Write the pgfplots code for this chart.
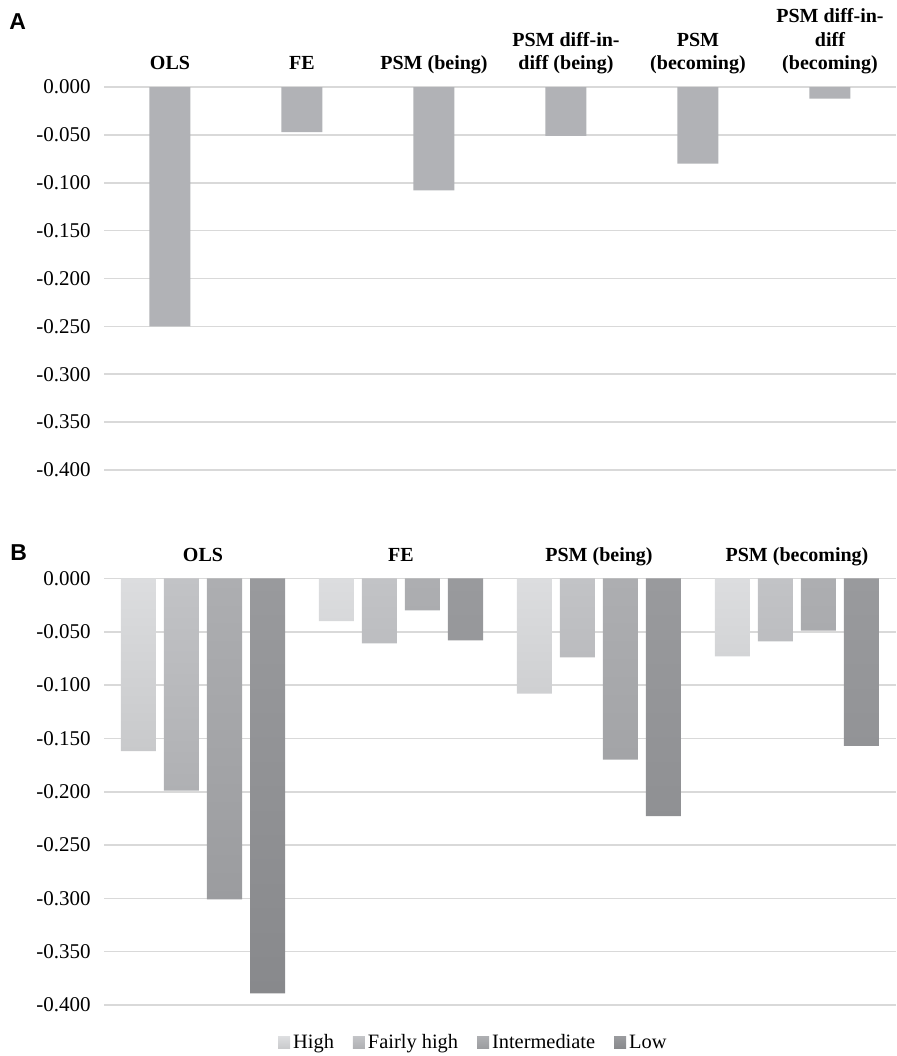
\documentclass[border=0pt]{standalone}
\usepackage{pgfplots}
\pgfplotsset{compat=1.18}
\usepackage{fontspec}
\setmainfont{Liberation Serif}
\newfontfamily\arial{Liberation Sans}

\definecolor{gridc}{HTML}{D9D9D9}
\definecolor{barA}{HTML}{B1B2B6}
\definecolor{hiT}{HTML}{DCDDDF}\definecolor{hiB}{HTML}{C8C9CB}
\definecolor{fhT}{HTML}{C2C3C6}\definecolor{fhB}{HTML}{AFB0B3}
\definecolor{imT}{HTML}{ADAEB1}\definecolor{imB}{HTML}{9B9C9F}
\definecolor{loT}{HTML}{999A9D}\definecolor{loB}{HTML}{88898C}

\pgfplotsset{
  panel/.style={
    scale only axis, width=396pt,
    axis line style={draw=none},
    major tick length=0pt,
    ymajorgrids, grid style={gridc, line width=0.8pt},
    ymin=-0.4, ymax=0,
    ytick={-0.4,-0.35,-0.3,-0.25,-0.2,-0.15,-0.1,-0.05,0},
    yticklabels={-0.400,-0.350,-0.300,-0.250,-0.200,-0.150,-0.100,-0.050,0.000},
    yticklabel style={font=\fontsize{10.5}{12}\selectfont, anchor=east, inner sep=0pt, xshift=-6.5pt},
    xticklabel pos=upper,
    xticklabel style={font=\fontsize{10}{11.75}\selectfont\bfseries, anchor=south, align=center,
      inner sep=0pt, text depth=0pt, yshift=8.5pt},
    clip=false,
  },
  sqlegend/.style={legend image code/.code={\fill[##1] (0pt,-3pt) rectangle (6pt,3pt);}},
}

\begin{document}
\begin{tikzpicture}
% panel A
\begin{axis}[panel, at={(52pt,-235pt)}, anchor=south west, height=191.5pt,
  xmin=-0.5, xmax=5.5, xtick={0,1,2,3,4,5},
  xticklabels={OLS, FE, PSM (being), {PSM diff-in-\\diff (being)}, {PSM\\(becoming)}, {PSM diff-in-\\diff\\(becoming)}}]
\addplot[ybar, bar width=20.5pt, fill=barA, draw=none]
  coordinates {(0,-0.250) (1,-0.047) (2,-0.108) (3,-0.051) (4,-0.080) (5,-0.012)};
\end{axis}

% panel B
\begin{axis}[panel, at={(52pt,-502.5pt)}, anchor=south west, height=213.3pt,
  xmin=-0.5, xmax=3.5, xtick={0,1,2,3},
  xticklabels={OLS, FE, PSM (being), PSM (becoming)},
  ybar=4pt, bar width=17.5pt,
  legend columns=4,
  legend style={at={(0.467,-0.089)}, anchor=center, draw=none, fill=none,
    font=\fontsize{10.2}{12}\selectfont, nodes={inner xsep=1.5pt},
    /tikz/every even column/.append style={column sep=8pt}}]
\addplot[draw=none, top color=hiT, bottom color=hiB, sqlegend]
  coordinates {(0,-0.162) (1,-0.040) (2,-0.108) (3,-0.073)};
\addplot[draw=none, top color=fhT, bottom color=fhB, sqlegend]
  coordinates {(0,-0.199) (1,-0.061) (2,-0.074) (3,-0.059)};
\addplot[draw=none, top color=imT, bottom color=imB, sqlegend]
  coordinates {(0,-0.301) (1,-0.030) (2,-0.170) (3,-0.049)};
\addplot[draw=none, top color=loT, bottom color=loB, sqlegend]
  coordinates {(0,-0.389) (1,-0.058) (2,-0.223) (3,-0.157)};
\legend{High, Fairly high, Intermediate, Low}
\end{axis}

\node[anchor=base west, inner sep=0pt, font=\arial\bfseries\fontsize{11.5}{12}\selectfont] at (4.5pt,-14.5pt) {A};
\node[anchor=base west, inner sep=0pt, font=\arial\bfseries\fontsize{11.5}{12}\selectfont] at (5pt,-280pt) {B};

\pgfresetboundingbox
\path (0pt,0pt) rectangle (448pt,-528pt);
\end{tikzpicture}
\end{document}
